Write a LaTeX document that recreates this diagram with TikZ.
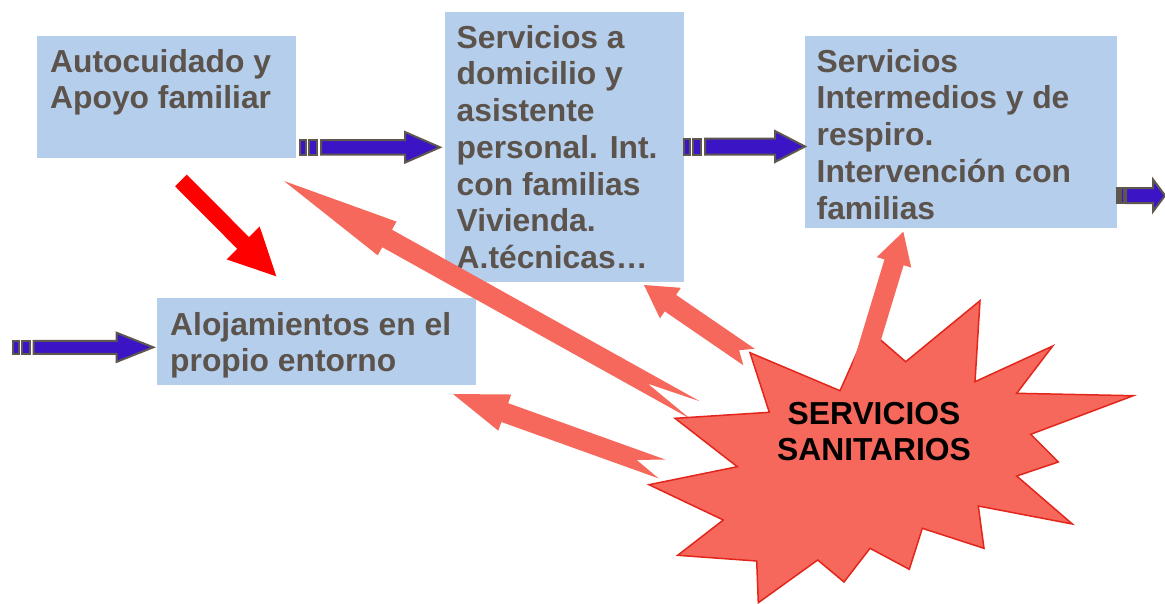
\documentclass[tikz,border=0pt]{standalone}
\usepackage{fontspec}
\setmainfont{Liberation Sans}
\usetikzlibrary{calc}
\definecolor{boxblue}{HTML}{B5CEEB}
\definecolor{txtgray}{HTML}{5B534C}
\definecolor{salmon}{HTML}{F6685C}
\definecolor{starline}{HTML}{E3261B}
\definecolor{arrblue}{HTML}{3B14C6}
\definecolor{arrline}{HTML}{5E574F}
% block arrow: #1 style, #2 tail, #3 tip, #4 shaft half width, #5 head half width, #6 head length, #7 notch depth
\newcommand\blockarr[7]{%
  \path let \p1=($(#3)-(#2)$) in \pgfextra{\pgfmathsetmacro\tmpA{atan2(\y1,\x1)}\pgfmathsetmacro\tmpL{veclen(\x1,\y1)}\xdef\arrAng{\tmpA}\xdef\arrLen{\tmpL}};
  \begin{scope}[shift={(#2)},rotate=\arrAng]
    \path[#1] (0,#4) -- ({\arrLen-#6},#4) -- ({\arrLen-#6},#5) -- (\arrLen,0) -- ({\arrLen-#6},-#5) -- ({\arrLen-#6},-#4) -- (0,-#4) -- (#7,0) -- cycle;
  \end{scope}}
% striped arrow: #1 x0, #2 y, #3 tip x, #4 shaft half, #5 head half, #6 head length, #7 stripe scale
\newcommand\stripearr[7]{%
  \draw[bluearr] (#1,{#2-#4}) rectangle ({#1+6*#7},{#2+#4});
  \draw[bluearr] ({#1+9*#7},{#2-#4}) rectangle ({#1+17*#7},{#2+#4});
  \draw[bluearr] ({#1+21*#7},{#2-#4}) -- ({#3-#6},{#2-#4}) -- ({#3-#6},{#2-#5}) -- (#3,#2) -- ({#3-#6},{#2+#5}) -- ({#3-#6},{#2+#4}) -- ({#1+21*#7},{#2+#4}) -- cycle;}
\begin{document}
\begin{tikzpicture}[x=1pt,y=-1pt,
  box/.style={fill=boxblue, draw=none, inner sep=0pt, anchor=north west},
  boxtext/.style={font=\bfseries\fontsize{31.8}{36.7}\selectfont, text=txtgray, align=left, inner sep=0pt, anchor=north west},
  startext/.style={font=\bfseries\fontsize{31.8}{36.7}\selectfont, text=black, align=center, inner sep=0pt},
  bluearr/.style={fill=arrblue, draw=arrline, line width=2pt},
  salmonarr/.style={fill=salmon},
  redarr/.style={fill=red},
  starshape/.style={fill=salmon, draw=starline, line width=1.5pt}]
\useasboundingbox (0,0) rectangle (1165,603);
\fill[white] (0,0) rectangle (1165,603);

% boxes
\node[box, minimum width=259pt, minimum height=122pt] (b1) at (37,36) {};
\node[box, minimum width=239pt, minimum height=270pt] (b2) at (445,12) {};
\node[box, minimum width=312pt, minimum height=192pt] (b3) at (805,36) {};
\node[box, minimum width=319pt, minimum height=87pt] (b4) at (157,298) {};

\node[boxtext] (t1) at (50,49) {Autocuidado y\\Apoyo familiar};
\node[boxtext] (t2) at (456.5,25) {Servicios a\\domicilio y\\asistente\\personal. Int.\\con familias\\Vivienda.\\A.técnicas…};
\node[boxtext] (t3) at (816.5,49) {Servicios\\Intermedios y de\\respiro.\\Intervención con\\familias};
\node[boxtext] (t4) at (170,312) {Alojamientos en el\\propio entorno};

% striped blue arrows
\stripearr{300}{147.3}{440}{7.2}{15.3}{35}{1}
\stripearr{684}{146.5}{805}{8}{15.5}{30}{1}
\stripearr{12.7}{347.3}{153.3}{6.5}{14.5}{36.6}{1}
\stripearr{1116.7}{195.5}{1165}{7.5}{16}{12}{0.45}

% red arrow
\coordinate (rTail) at (180.9,180.4);
\coordinate (rTip) at (276.7,276.7);
\blockarr{redarr}{rTail}{rTip}{8.3}{23.3}{47}{0}

% salmon arrows (behind star)
\coordinate (bTail) at (749,357);
\coordinate (bTip) at (644,285);
\coordinate (cTail) at (695,410);
\coordinate (cTip) at (284,181);
\coordinate (dTail) at (662,469);
\coordinate (dTip) at (453,394);
\blockarr{salmonarr}{bTail}{bTip}{10}{18.5}{32}{12}
\blockarr{salmonarr}{cTail}{cTip}{10}{19.3}{118}{54}
\blockarr{salmonarr}{dTail}{dTip}{10}{19.2}{55}{27}

% star
\draw[starshape] (750.0,352.7) -- (840.0,390.7) -- (867.7,328.7) -- (905.7,361.7) -- (980.0,300.7) -- (975.0,381.7) -- (1052.7,346.0) -- (1016.7,393.3) -- (1133.3,395.7) -- (1030.7,434.3) -- (1058.3,462.0) -- (1016.7,476.0) -- (1072.3,524.0) -- (978.3,506.0) -- (984.0,548.3) -- (922.3,528.3) -- (909.3,569.3) -- (870.0,548.3) -- (844.0,582.0) -- (817.7,560.0) -- (758.3,602.7) -- (756.7,561.0) -- (677.7,555.3) -- (723.3,520.0) -- (649.0,484.7) -- (737.3,466.7) -- (675.0,418.3) -- (769.3,412.3) -- cycle;

% salmon arrow to box 3 (over star)
\coordinate (aTail) at (862,368);
\coordinate (aTip) at (903.3,231.7);
\blockarr{salmonarr}{aTail}{aTip}{10}{18}{32}{0}

\node[startext] (st) at (874,431.5) {SERVICIOS\\SANITARIOS};
\end{tikzpicture}
\end{document}
